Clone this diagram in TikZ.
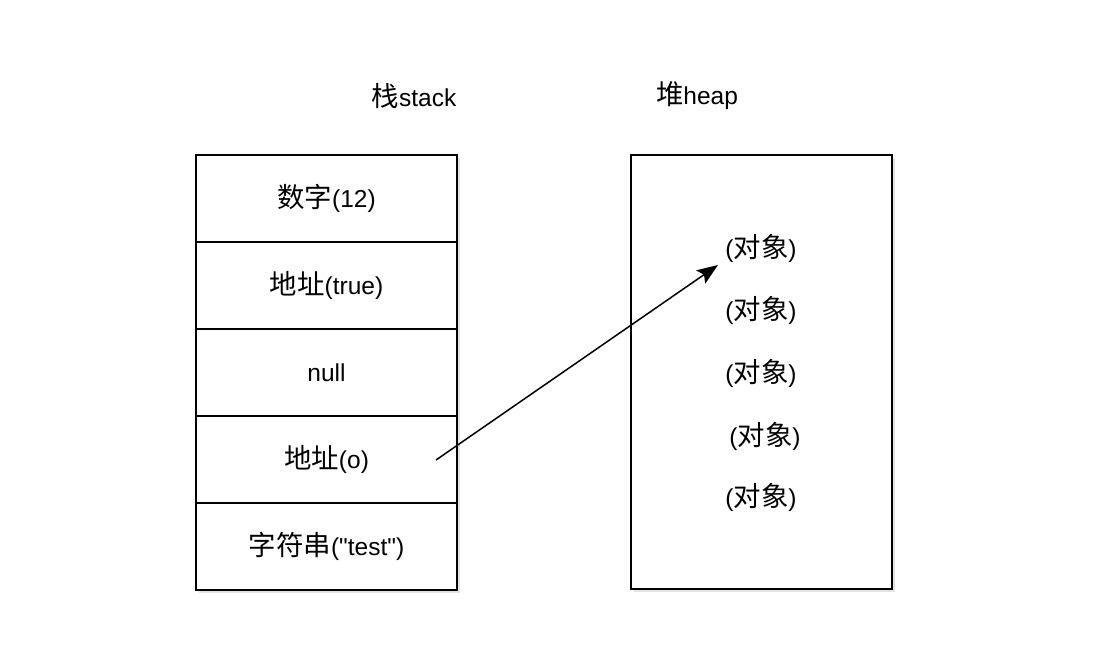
\documentclass[tikz,border=0pt]{standalone}
\usepackage{fontspec}
\setmainfont{Liberation Sans}
\newfontfamily\cjk[Scale=1.12]{Noto Sans CJK SC}
\usetikzlibrary{arrows.meta,positioning,shadows}

\begin{document}
\begin{tikzpicture}[x=1pt,y=-1pt,font=\fontsize{24.5}{28}\selectfont,
    memshadow/.style={drop shadow={shadow xshift=3pt,shadow yshift=-3pt,fill=black!30,opacity=0.35}},
    slot/.style={draw,line width=1.4pt,fill=white,minimum width=261pt,minimum height=87pt,
      inner sep=0pt,outer sep=0pt,memshadow},
    heapbox/.style={draw,line width=1.4pt,fill=white,minimum width=261pt,minimum height=434pt,
      inner sep=0pt,memshadow},
    obj/.style={inner sep=1pt},
    title/.style={inner sep=1pt}]
  \useasboundingbox (0,0) rectangle (1107,667);

  % titles
  \node[title] (stacktitle) at (414,96) {{\cjk 栈}stack};
  \node[title] (heaptitle) at (697,96) {{\cjk 堆}heap};

  % stack
  \node[slot] (num) at (326.5,198.5) {{\cjk 数字}(12)};
  \node[slot,below=0pt of num] (addrtrue) {{\cjk 地址}(true)};
  \node[slot,below=0pt of addrtrue] (nul) {null};
  \node[slot,below=0pt of nul] (addro) {{\cjk 地址}(o)};
  \node[slot,below=0pt of addro] (str) {{\cjk 字符串}(\textquotedbl test\textquotedbl)};

  % heap
  \node[heapbox] (heap) at (761.5,372) {};
  \node[obj] (obja) at (761,248) {({\cjk 对象})};
  \node[obj] (objb) at (761,310) {({\cjk 对象})};
  \node[obj] (objc) at (761,373) {({\cjk 对象})};
  \node[obj] (objd) at (765,436) {({\cjk 对象})};
  \node[obj] (obje) at (761,497) {({\cjk 对象})};

  % reference
  \coordinate (ref) at (436,460);
  \coordinate (target) at (718,265);
  \draw[line width=1.5pt,-{Stealth[length=21pt,width=16pt,inset=4pt]}] (ref) -- (target);
\end{tikzpicture}
\end{document}
